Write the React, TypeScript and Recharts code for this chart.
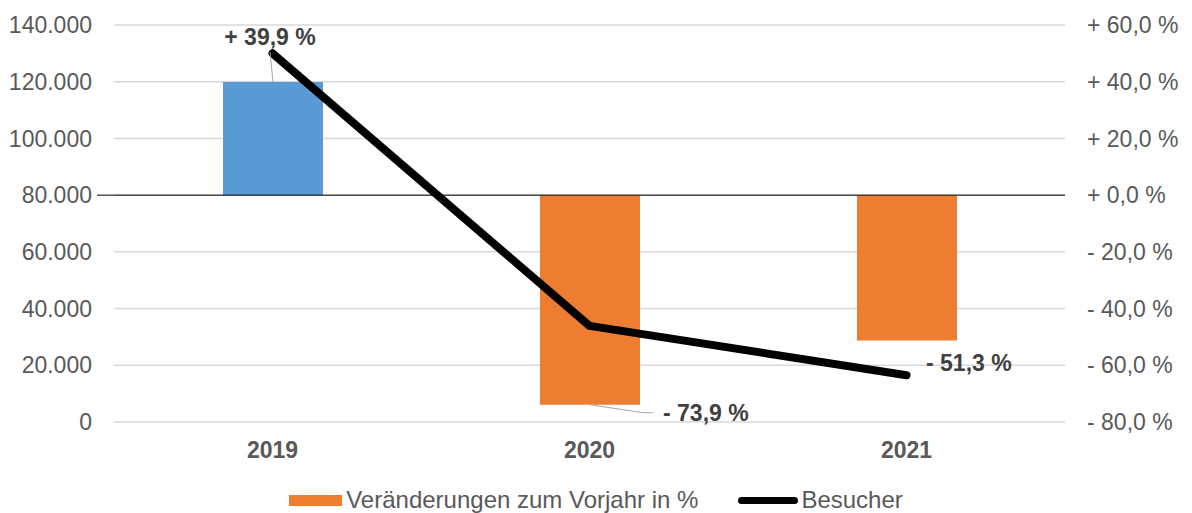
import { Bar, Cell, ComposedChart, CartesianGrid, LabelList, Legend, Line, ReferenceLine, XAxis, YAxis } from "recharts";

const years = ["2019", "2020", "2021"];
const changePct = [39.9, -73.9, -51.3];
const visitors = [130000, 33900, 16500];
const leftTicks = [0, 20000, 40000, 60000, 80000, 100000, 120000, 140000];
const rightTicks = [-80, -60, -40, -20, 0, 20, 40, 60];

const BLUE = "#5B9BD5";
const ORANGE = "#ED7D31";
const TICK = "#595959";
const FONT = '"Liberation Sans", Arial, sans-serif';

const data = years.map((year, i) => ({ year, change: [0, changePct[i]], visitors: visitors[i] }));

const fmtPct = (v: number) => (v < 0 ? "- " : "+ ") + Math.abs(v).toFixed(1).replace(".", ",") + " %";
const fmtThousands = (v: number) => String(v).replace(/\B(?=(\d{3})+(?!\d))/g, ".");

// manually placed labels, as in the original sheet
function ChangeLabel(props: any) {
  const { x, y, width, height, index } = props;
  const cx = x + width / 2;
  const top = Math.min(y, y + height);
  const bottom = Math.max(y, y + height);
  const txt = fmtPct(changePct[index]);
  const style = { fontSize: 23, fontWeight: "bold" as const, fill: "#404040" };
  if (index === 0) {
    return (
      <g>
        <line x1={cx} y1={top} x2={cx - 3} y2={top - 30} stroke="#A6A6A6" strokeWidth={1} />
        <text x={cx - 3} y={top - 45} dy="0.355em" textAnchor="middle" {...style}>{txt}</text>
      </g>
    );
  }
  if (index === 1) {
    return (
      <g>
        <polyline points={`${cx},${bottom} ${cx + 53},${bottom + 8} ${cx + 63},${bottom + 8}`} fill="none" stroke="#A6A6A6" strokeWidth={1} />
        <text x={cx + 73} y={bottom + 8} dy="0.355em" textAnchor="start" {...style}>{txt}</text>
      </g>
    );
  }
  return <text x={cx + 19} y={bottom + 22} dy="0.355em" textAnchor="start" {...style}>{txt}</text>;
}

function ZeroLine(p: any) {
  const left = Math.min(p.x1, p.x2);
  const right = Math.max(p.x1, p.x2);
  return <line x1={left - 17} y1={p.y1} x2={right} y2={p.y2} stroke="#000" strokeWidth={1} />;
}

function LegendContent() {
  return (
    <div style={{ display: "flex", justifyContent: "center", alignItems: "center", height: 28, fontSize: 24, color: TICK, fontFamily: FONT }}>
      <span style={{ width: 53, height: 11, background: ORANGE, marginRight: 4 }} />
      <span>Veränderungen zum Vorjahr in %</span>
      <span style={{ width: 60, height: 7, background: "#000", borderRadius: 4, marginLeft: 40, marginRight: 3 }} />
      <span>Besucher</span>
    </div>
  );
}

export default function App() {
  return (
    <div style={{ position: "absolute", left: 0, top: 0, background: "#fff" }}>
      <ComposedChart width={1192} height={513} data={data} margin={{ top: 25, right: 0, bottom: 0, left: 0 }} style={{ fontFamily: FONT }}>
        <CartesianGrid yAxisId="left" vertical={false} stroke="#D9D9D9" strokeWidth={1.5} />
        <XAxis dataKey="year" height={91} tickLine={false} axisLine={false} tickSize={0} tickMargin={20}
          tick={{ fill: TICK, fontSize: 23, fontWeight: "bold" }} />
        <YAxis yAxisId="left" width={114} domain={[0, 140000]} ticks={leftTicks} tickFormatter={fmtThousands}
          tickLine={false} axisLine={false} tickSize={0} tickMargin={22} tick={{ fill: TICK, fontSize: 23 }} />
        <YAxis yAxisId="right" orientation="right" width={127} domain={[-80, 60]} ticks={rightTicks} tickFormatter={fmtPct}
          tickLine={false} axisLine={false} tickSize={0} tickMargin={22} tick={{ fill: TICK, fontSize: 23, textAnchor: "start" }} />
        <Legend verticalAlign="middle" align="center" layout="horizontal" content={<LegendContent />}
          wrapperStyle={{ top: 486, left: 0, width: 1192, bottom: "auto" }} />
        <Bar yAxisId="right" dataKey="change" barSize={100} isAnimationActive={false} name="Veränderungen zum Vorjahr in %">
          {data.map((d, i) => <Cell key={d.year} fill={i === 0 ? BLUE : ORANGE} />)}
          <LabelList dataKey="change" content={<ChangeLabel />} />
        </Bar>
        <ReferenceLine yAxisId="right" y={0} stroke="#000" strokeWidth={1} shape={(p: any) => <ZeroLine {...p} />} />
        <Line yAxisId="left" dataKey="visitors" name="Besucher" stroke="#000" strokeWidth={8} strokeLinecap="round"
          strokeLinejoin="round" dot={false} activeDot={false} isAnimationActive={false} />
      </ComposedChart>
    </div>
  );
}
